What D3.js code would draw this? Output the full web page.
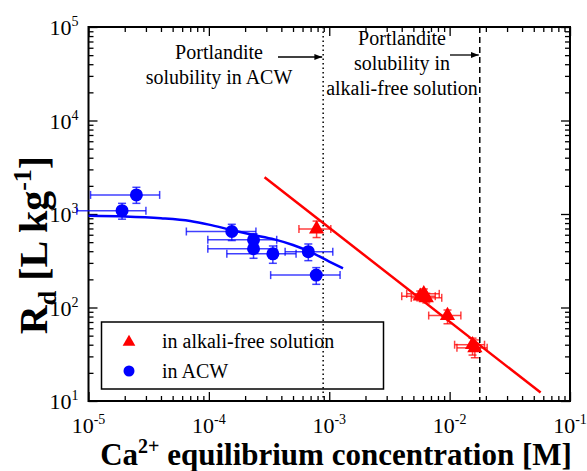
<!DOCTYPE html>
<html>
<head>
<meta charset="utf-8">
<script src="https://cdn.jsdelivr.net/npm/d3@7"></script>
<style>
  body { margin: 0; background: #fff; }
</style>
</head>
<body>
<div id="chart"></div>
<script>
// ACW points (blue circles)
var acwX   = [2.5e-5, 1.9e-5, 1.55e-4, 2.35e-4, 2.35e-4, 3.4e-4, 6.7e-4, 7.8e-4];
var acwY   = [1600, 1085, 650, 530, 425, 375, 395, 222];
var acwXLo = [1.04e-5, 8.0e-6, 6.5e-5, 9.8e-5, 9.8e-5, 1.41e-4, 4.3e-4, 3.26e-4];
var acwXHi = [3.9e-5, 3.0e-5, 2.46e-4, 3.66e-4, 3.66e-4, 5.3e-4, 1.07e-3, 1.23e-3];
var acwYLo = [1300, 880, 520, 455, 336, 297, 317, 177];
var acwYHi = [1930, 1300, 776, 615, 514, 455, 478, 267];

// alkali-free points (red triangles)
var afX   = [7.85e-4, 5.7e-3, 6.1e-3, 6.4e-3, 9.6e-3, 1.55e-2, 1.62e-2];
var afY   = [690, 132, 140, 127, 82, 40, 37];
var afXLo = [5.6e-4, 4.0e-3, 4.4e-3, 4.8e-3, 6.7e-3, 1.1e-2, 1.15e-2];
var afXHi = [1.03e-3, 7.6e-3, 8.2e-3, 8.6e-3, 1.24e-2, 1.95e-2, 2.05e-2];
var afYLo = [560, 118, 124, 112, 67, 31, 29];
var afYHi = [840, 150, 158, 142, 94, 47, 45];

// fitted curves
var acwFitX = [1e-5, 2e-5, 4e-5, 7e-5, 1e-4, 1.5e-4, 2.3e-4, 3.5e-4, 5e-4, 7e-4, 1e-3, 1.3e-3];
var acwFitY = [955, 940, 900, 840, 770, 680, 600, 535, 466, 392, 310, 262];
var afFitX = [2.9e-4, 5.7e-2];
var afFitY = [2470, 12.3];

// portlandite solubility limits
var solACW = 8.9e-4;
var solAF = 0.0178;

var xTickExp = [-5, -4, -3, -2, -1];
var yTickExp = [1, 2, 3, 4, 5];

var svgWidth = 587;
var svgHeight = 471;
var margin = { top: 27, right: 17, bottom: 70, left: 88.5 };

var svg = d3.select("#chart")
  .append("svg")
  .attr("width", svgWidth)
  .attr("height", svgHeight)
  .attr("font-family", "'Liberation Serif', 'Times New Roman', Times, 'DejaVu Serif', serif");

var x = d3.scaleLog().domain([1e-5, 1e-1]).range([margin.left, svgWidth - margin.right]);
var y = d3.scaleLog().domain([10, 1e5]).range([svgHeight - margin.bottom, margin.top]);

var x0 = x.range()[0], x1 = x.range()[1];
var y0 = y.range()[1], y1 = y.range()[0];

function isMajor(d) {
  var l = Math.log10(d);
  return Math.abs(l - Math.round(l)) < 1e-9;
}

// axes with inward ticks on all four sides
function styleTicks(g, sign, horiz) {
  g.select(".domain").remove();
  g.selectAll(".tick line")
    .attr("stroke", "#000")
    .attr("stroke-width", 1.3)
    .attr(horiz ? "y2" : "x2", d => sign * (isMajor(d) ? 9 : 5));
}

svg.append("g").attr("transform", `translate(0,${y1})`)
  .call(d3.axisBottom(x).tickValues(x.ticks()).tickFormat(""))
  .call(g => styleTicks(g, -1, true));
svg.append("g").attr("transform", `translate(0,${y0})`)
  .call(d3.axisTop(x).tickValues(x.ticks()).tickFormat(""))
  .call(g => styleTicks(g, 1, true));
svg.append("g").attr("transform", `translate(${x0},0)`)
  .call(d3.axisLeft(y).tickValues(y.ticks()).tickFormat(""))
  .call(g => styleTicks(g, 1, false));
svg.append("g").attr("transform", `translate(${x1},0)`)
  .call(d3.axisRight(y).tickValues(y.ticks()).tickFormat(""))
  .call(g => styleTicks(g, -1, false));

// frame
svg.append("rect")
  .attr("x", x0).attr("y", y0)
  .attr("width", x1 - x0).attr("height", y1 - y0)
  .attr("fill", "none").attr("stroke", "#000").attr("stroke-width", 2);

// tick labels
xTickExp.forEach(function(e) {
  var t = svg.append("text")
    .attr("x", x(Math.pow(10, e)))
    .attr("y", y1 + 32)
    .attr("text-anchor", "middle")
    .style("font-size", "22px");
  t.append("tspan").text("10");
  t.append("tspan").attr("dy", -9).style("font-size", "14px").text(e);
});
yTickExp.forEach(function(e) {
  var t = svg.append("text")
    .attr("x", x0 - 10)
    .attr("y", y(Math.pow(10, e)) + 8)
    .attr("text-anchor", "end")
    .style("font-size", "22px");
  t.append("tspan").text("10");
  t.append("tspan").attr("dy", -9).style("font-size", "14px").text(e);
});

// axis titles
var xt = svg.append("text")
  .attr("x", 336).attr("y", 465)
  .attr("text-anchor", "middle")
  .style("font-size", "31px").style("font-weight", "bold");
xt.append("tspan").text("Ca");
xt.append("tspan").attr("dy", -12).style("font-size", "20px").text("2+");
xt.append("tspan").attr("dy", 12).text(" equilibrium concentration [M]");

var yt = svg.append("text")
  .attr("transform", "translate(47,245) rotate(-90)")
  .attr("text-anchor", "middle")
  .style("font-size", "40px").style("font-weight", "bold");
yt.append("tspan").text("R");
yt.append("tspan").attr("dy", 9).style("font-size", "26px").text("d");
yt.append("tspan").attr("dy", -9).text(" [L kg");
yt.append("tspan").attr("dy", -16).style("font-size", "26px").text("-1");
yt.append("tspan").attr("dy", 16).text("]");

// solubility limits
svg.append("line")
  .attr("x1", x(solACW)).attr("x2", x(solACW))
  .attr("y1", y0).attr("y2", y1)
  .attr("stroke", "#000").attr("stroke-width", 1.5)
  .attr("stroke-dasharray", "1.5,3");
svg.append("line")
  .attr("x1", x(solAF)).attr("x2", x(solAF))
  .attr("y1", y0).attr("y2", y1)
  .attr("stroke", "#000").attr("stroke-width", 1.5)
  .attr("stroke-dasharray", "6,4");

// annotations
svg.append("defs").append("marker")
  .attr("id", "arrow")
  .attr("viewBox", "0 0 10 10")
  .attr("refX", 10).attr("refY", 5)
  .attr("markerWidth", 10).attr("markerHeight", 6)
  .attr("orient", "auto")
  .append("path").attr("d", "M0,1L10,5L0,9Z").attr("fill", "#000");

function note(lines, cx, top) {
  lines.forEach(function(s, i) {
    svg.append("text")
      .attr("x", cx).attr("y", top + i * 25)
      .attr("text-anchor", "middle")
      .style("font-size", "20px")
      .text(s);
  });
}
note(["Portlandite", "solubility in ACW"], 219, 59);
note(["Portlandite", "solubility in", "alkali-free solution"], 402, 45);

svg.append("line")
  .attr("x1", 278).attr("x2", x(solACW) - 1).attr("y1", 57).attr("y2", 57)
  .attr("stroke", "#000").attr("stroke-width", 1.3).attr("marker-end", "url(#arrow)");
svg.append("line")
  .attr("x1", 450).attr("x2", x(solAF) - 1).attr("y1", 55).attr("y2", 55)
  .attr("stroke", "#000").attr("stroke-width", 1.3).attr("marker-end", "url(#arrow)");

// fit lines
var line = d3.line().x(d => x(d[0])).y(d => y(d[1]));
svg.append("path")
  .datum(d3.zip(afFitX, afFitY))
  .attr("d", line)
  .attr("fill", "none").attr("stroke", "#ff0000").attr("stroke-width", 2.5);
svg.append("path")
  .datum(d3.zip(acwFitX, acwFitY))
  .attr("d", line.curve(d3.curveMonotoneX))
  .attr("fill", "none").attr("stroke", "#0000ff").attr("stroke-width", 2.5);

// error bars
function errorBars(xs, ys, xlo, xhi, ylo, yhi, color) {
  var g = svg.append("g")
    .attr("stroke", color).attr("stroke-width", 1.5).attr("stroke-opacity", 0.75);
  xs.forEach(function(v, i) {
    var px = x(v), py = y(ys[i]);
    var a = x(xlo[i]), b = x(xhi[i]), c = y(ylo[i]), d = y(yhi[i]);
    g.append("line").attr("x1", a).attr("x2", b).attr("y1", py).attr("y2", py);
    g.append("line").attr("x1", a).attr("x2", a).attr("y1", py - 4).attr("y2", py + 4);
    g.append("line").attr("x1", b).attr("x2", b).attr("y1", py - 4).attr("y2", py + 4);
    g.append("line").attr("x1", px).attr("x2", px).attr("y1", c).attr("y2", d);
    g.append("line").attr("x1", px - 4).attr("x2", px + 4).attr("y1", c).attr("y2", c);
    g.append("line").attr("x1", px - 4).attr("x2", px + 4).attr("y1", d).attr("y2", d);
  });
}
errorBars(acwX, acwY, acwXLo, acwXHi, acwYLo, acwYHi, "#0000ff");
errorBars(afX, afY, afXLo, afXHi, afYLo, afYHi, "#ff0000");

// markers
svg.append("g").selectAll("circle")
  .data(d3.zip(acwX, acwY))
  .enter()
  .append("circle")
  .attr("cx", d => x(d[0]))
  .attr("cy", d => y(d[1]))
  .attr("r", 6.5)
  .attr("fill", "#0000ff");

var tri = d3.symbol().type(d3.symbolTriangle).size(100);
svg.append("g").selectAll("path")
  .data(d3.zip(afX, afY))
  .enter()
  .append("path")
  .attr("transform", d => `translate(${x(d[0])},${y(d[1])})`)
  .attr("d", tri)
  .attr("fill", "#ff0000");

// legend
svg.append("rect")
  .attr("x", 101.5).attr("y", 322)
  .attr("width", 282).attr("height", 67)
  .attr("fill", "none").attr("stroke", "#000").attr("stroke-width", 1.5);
svg.append("path")
  .attr("transform", "translate(129,342)")
  .attr("d", d3.symbol().type(d3.symbolTriangle).size(70))
  .attr("fill", "#ff0000");
svg.append("circle")
  .attr("cx", 129).attr("cy", 371).attr("r", 5.5)
  .attr("fill", "#0000ff");
svg.append("text")
  .attr("x", 162).attr("y", 348)
  .style("font-size", "20px")
  .text("in alkali-free solution");
svg.append("text")
  .attr("x", 162).attr("y", 378)
  .style("font-size", "20px")
  .text("in ACW");
</script>
</body>
</html>
